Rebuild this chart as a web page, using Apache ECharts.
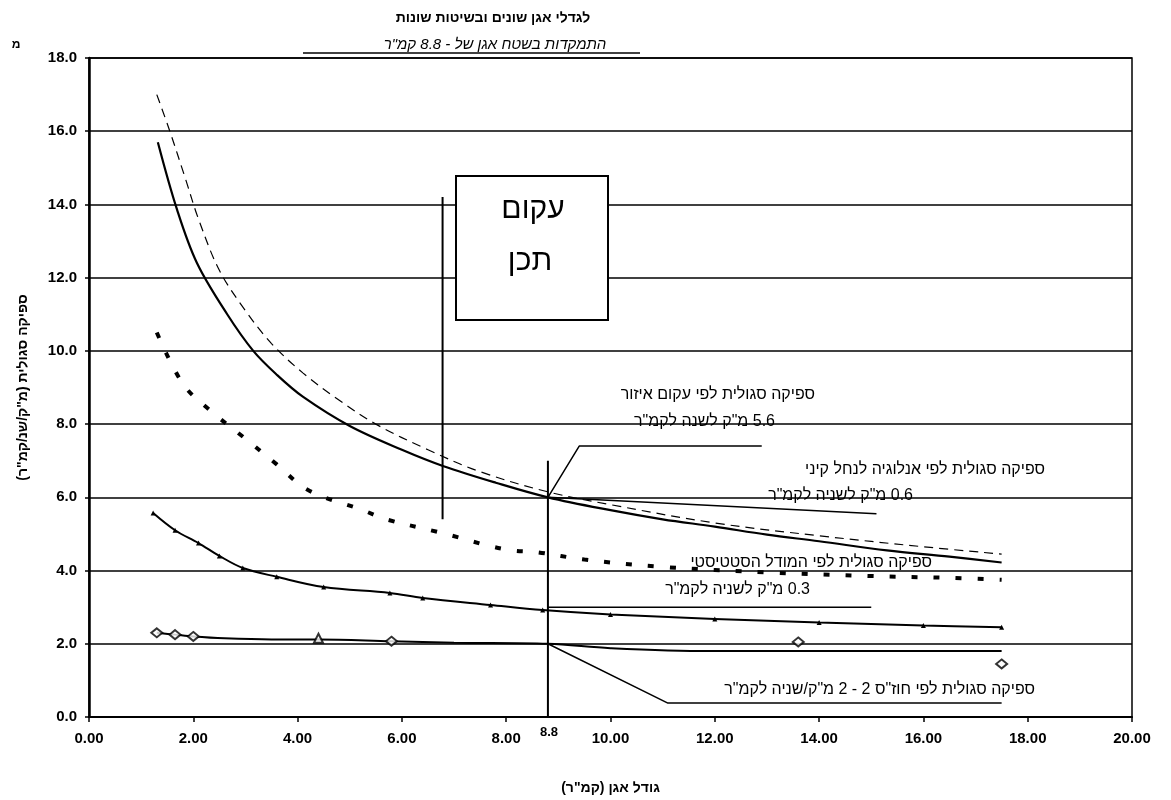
<!DOCTYPE html>
<html><head><meta charset="utf-8">
<script src="https://cdn.jsdelivr.net/npm/echarts@6/dist/echarts.min.js"></script>
<style>html,body{margin:0;padding:0;background:#fff}#c{width:1171px;height:800px}</style>
</head><body>
<div id="c" dir="rtl"></div>
<script>
// ---------- data ----------
const titleLine1 = 'לגדלי אגן שונים ובשיטות שונות';
const titleLine2 = 'התמקדות בשטח אגן של - 8.8 קמ"ר';
const xAxisName = 'גודל אגן (קמ"ר)';
const yAxisName = 'ספיקה סגולית (מ"ק/שנ/קמ"ר)';
const designBoxText = ['עקום', 'תכן'];
const focusArea = 8.8;

// top solid curve (regional envelope)
const regionalX = [1.32, 1.69, 2.07, 2.65, 3.15, 3.6, 4.1, 5.0, 6.0, 6.8, 7.8, 8.8, 10, 11, 12, 13, 14, 15.3, 16.5, 17.5];
const regionalY = [15.7, 13.85, 12.4, 11.0, 10.0, 9.35, 8.75, 7.95, 7.3, 6.85, 6.4, 6.0, 5.65, 5.4, 5.2, 4.98, 4.8, 4.55, 4.38, 4.22];
// thin dashed curve
const dashedX = [1.3, 1.55, 1.85, 2.1, 2.5, 3.0, 3.5, 4.1, 4.75, 5.5, 6.5, 7.5, 8.8, 10, 12, 14, 16, 17.5];
const dashedY = [17.0, 16.0, 14.7, 13.6, 12.2, 11.1, 10.2, 9.4, 8.7, 8.0, 7.3, 6.7, 6.15, 5.8, 5.3, 4.95, 4.65, 4.45];
// thick dotted curve (analogy)
const analogyX = [1.3, 1.8, 2.3, 3.0, 3.6, 4.2, 5.25, 5.7, 6.7, 7.1, 7.6, 8.1, 8.6, 9.5, 11, 13, 15, 16.5, 17.5];
const analogyY = [10.5, 9.1, 8.4, 7.6, 6.9, 6.2, 5.65, 5.4, 5.05, 4.9, 4.7, 4.55, 4.5, 4.3, 4.1, 3.95, 3.85, 3.8, 3.75];
// statistical model curve
const statX = [1.23, 1.65, 2.1, 2.5, 2.95, 3.6, 4.5, 5.77, 6.4, 7.7, 8.7, 10, 12, 14, 16, 17.5];
const statY = [5.57, 5.1, 4.75, 4.4, 4.07, 3.83, 3.55, 3.39, 3.25, 3.06, 2.92, 2.8, 2.68, 2.58, 2.5, 2.45];
// hydrological curve
const hydroX = [1.3, 1.65, 2.0, 2.6, 3.5, 4.4, 5.8, 7.0, 8.8, 10, 11.9, 13.6, 15.5, 17.5];
const hydroY = [2.3, 2.25, 2.2, 2.15, 2.12, 2.12, 2.07, 2.03, 2.0, 1.88, 1.8, 1.8, 1.8, 1.8];
const hydroMarkX = [1.3, 1.65, 2.0, 5.8, 13.6, 17.5];
const hydroMarkY = [2.3, 2.25, 2.2, 2.07, 2.05, 1.45];
const triMarkX = [4.4];
const triMarkY = [2.15];

// leader / guide lines (data coordinates)
const leaderRegional = [[8.8, 6.0], [9.4, 7.4], [12.9, 7.4]];
const leaderAnalogy = [[8.8, 6.0], [15.1, 5.55]];
const leaderStat = [[8.8, 3.0], [15.0, 3.0]];
const leaderHydro = [[8.8, 2.0], [11.1, 0.38], [17.5, 0.38]];
const guideFocus = [[8.8, 0], [8.8, 7.0]];
const guideDesign = [[6.78, 5.4], [6.78, 14.2]];

// annotation texts
const noteRegional = ['ספיקה סגולית לפי עקום איזור', '5.6 מ"ק לשנה לקמ"ר'];
const noteAnalogy = ['ספיקה סגולית לפי אנלוגיה לנחל קיני', '0.6 מ"ק לשניה לקמ"ר'];
const noteStat = ['ספיקה סגולית לפי המודל הסטטיסטי', '0.3 מ"ק לשניה לקמ"ר'];
const noteHydro = 'ספיקה סגולית לפי חוז"ס 2 - 2 מ"ק/שניה לקמ"ר';

// ---------- chart ----------
const zip = (xs, ys) => xs.map((x, i) => [x, ys[i]]);
const FONT = '"Liberation Sans", Arial, sans-serif';
const chart = echarts.init(document.getElementById('c'), null, {renderer: 'canvas'});

function guide(data, w) {
  return {type: 'line', data, symbol: 'none', silent: true, z: 4,
    lineStyle: {color: '#000', width: w || 1.5}};
}
function txt(x, y, text, size, align, extra) {
  return {type: 'text', x, y, z: 50, style: {text, fill: '#000',
    font: (extra || '') + ' ' + size + 'px ' + FONT, textAlign: align || 'right', textVerticalAlign: 'middle'}};
}

chart.setOption({
  backgroundColor: '#fff',
  animation: false,
  grid: {left: 89, right: 39, top: 58, bottom: 83, show: true, borderColor: '#000', borderWidth: 1.5, backgroundColor: 'transparent'},
  xAxis: {
    type: 'value', min: 0, max: 20, interval: 2,
    name: xAxisName, nameLocation: 'middle', nameGap: 64,
    nameTextStyle: {color: '#000', fontSize: 14, fontWeight: 'bold', fontFamily: FONT},
    axisLine: {lineStyle: {color: '#000', width: 2}},
    axisTick: {show: true, length: 5, lineStyle: {color: '#000', width: 1.5}},
    axisLabel: {color: '#000', fontSize: 15, fontWeight: 'bold', fontFamily: FONT, margin: 14,
      formatter: v => v.toFixed(2)},
    splitLine: {show: false}
  },
  yAxis: {
    type: 'value', min: 0, max: 18, interval: 2,
    name: yAxisName, nameLocation: 'middle', nameGap: 59,
    nameTextStyle: {color: '#000', fontSize: 14, fontWeight: 'bold', fontFamily: FONT},
    axisLine: {show: true, lineStyle: {color: '#000', width: 2.5}},
    axisTick: {show: true, length: 4, lineStyle: {color: '#000', width: 1.5}},
    axisLabel: {color: '#000', fontSize: 15, fontWeight: 'bold', fontFamily: FONT, margin: 12,
      formatter: v => v.toFixed(1)},
    splitLine: {show: true, lineStyle: {color: '#000', width: 1.5}}
  },
  series: [
    {type: 'line', data: zip(regionalX, regionalY), smooth: 0.35, symbol: 'none', z: 5,
      lineStyle: {color: '#000', width: 2.2}},
    {type: 'line', data: zip(dashedX, dashedY), smooth: 0.35, symbol: 'none', z: 5,
      lineStyle: {color: '#000', width: 1.2, type: [9, 6]}},
    {type: 'line', data: zip(analogyX, analogyY), smooth: 0.35, symbol: 'none', z: 5,
      lineStyle: {color: '#000', width: 4, type: [6, 16]}},
    {type: 'line', data: zip(statX, statY), smooth: 0.35, symbol: 'triangle', symbolSize: 5, z: 5,
      itemStyle: {color: '#000'}, lineStyle: {color: '#000', width: 2}},
    {type: 'line', data: zip(hydroX, hydroY), smooth: 0.35, symbol: 'none', z: 5,
      lineStyle: {color: '#000', width: 2}},
    {type: 'scatter', data: zip(hydroMarkX, hydroMarkY), symbol: 'diamond', symbolSize: [11, 9], z: 6,
      itemStyle: {color: '#fff', borderColor: '#000', borderWidth: 2}},
    {type: 'scatter', data: zip(triMarkX, triMarkY), symbol: 'triangle', symbolSize: 9, z: 6,
      itemStyle: {color: '#fff', borderColor: '#000', borderWidth: 2}},
    guide(leaderRegional), guide(leaderAnalogy), guide(leaderStat), guide(leaderHydro),
    guide(guideFocus, 2), guide(guideDesign, 2)
  ],
  graphic: [
    txt(493, 18, titleLine1, 14, 'center', 'bold'),
    txt(495, 45, titleLine2, 15, 'center', 'italic'),
    {type: 'line', z: 50, shape: {x1: 303, y1: 53, x2: 640, y2: 53}, style: {stroke: '#000', lineWidth: 1.5}},
    txt(16, 45, 'מ', 12, 'center', 'bold'),
    {type: 'rect', z: 40, shape: {x: 456, y: 176, width: 152, height: 144},
      style: {fill: '#fff', stroke: '#000', lineWidth: 2}},
    txt(533, 210, designBoxText[0], 30, 'center'),
    txt(530, 262, designBoxText[1], 30, 'center'),
    txt(815, 395, noteRegional[0], 16),
    txt(775, 422, noteRegional[1], 16),
    txt(1045, 470, noteAnalogy[0], 16),
    txt(913, 496, noteAnalogy[1], 16),
    txt(932, 563, noteStat[0], 16),
    txt(810, 590, noteStat[1], 16),
    txt(1035, 690, noteHydro, 16),
    txt(549, 732, String(focusArea), 13, 'center', 'bold')
  ]
});
</script>
</body></html>
